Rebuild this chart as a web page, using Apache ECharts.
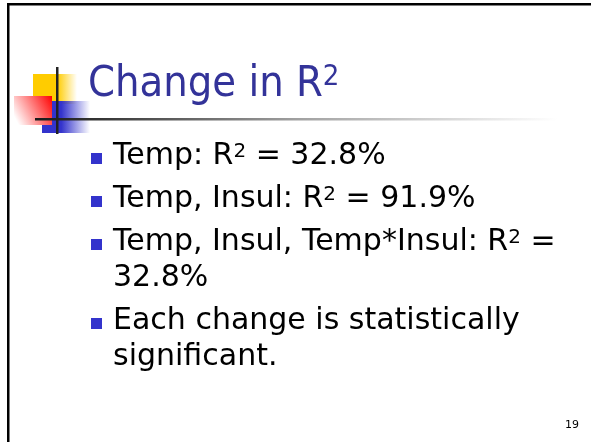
<!DOCTYPE html>
<html>
<head>
<meta charset="utf-8">
<script src="https://cdn.jsdelivr.net/npm/echarts@6/dist/echarts.min.js"></script>
<style>
  html, body { margin: 0; padding: 0; background: #fff; }
  #main { width: 591px; height: 442px; }
</style>
</head>
<body>
<div id="main"></div>
<script>
// 幻灯片内容
const titleText = 'Change in R{s|2}';
const bulletItems = [
  ['Temp: R{s|2} = 32.8%'],
  ['Temp, Insul: R{s|2} = 91.9%'],
  ['Temp, Insul, Temp*Insul: R{s|2} =', '32.8%'],
  ['Each change is statistically', 'significant.']
];
const pageNumber = '19';

const FONT = '"DejaVu Sans", sans-serif';
const TITLE_FONT = '"DejaVu Sans Condensed", "DejaVu Sans", sans-serif';

// 版式
const bodySize = 30;
const titleSize = 43;
const firstBaseline = 167;
const bulletGap = 43; // 段落之间
const lineGap = 36;   // 段落内换行

const chart = echarts.init(document.getElementById('main'));

const elements = [];

// 边框（左、上）
elements.push({ type: 'rect', shape: { x: 7, y: 3, width: 2.5, height: 442 }, style: { fill: '#000' } });
elements.push({ type: 'rect', shape: { x: 7, y: 3, width: 600, height: 2.5 }, style: { fill: '#000' } });

// 标题左侧的装饰方块
elements.push({
  type: 'rect', shape: { x: 33, y: 74, width: 44, height: 30 },
  style: { fill: new echarts.graphic.LinearGradient(0, 0, 1, 0, [
    { offset: 0, color: '#ffcc00' }, { offset: 0.55, color: '#ffcc00' }, { offset: 1, color: 'rgba(255,204,0,0)' }
  ]) }
});
elements.push({
  type: 'rect', shape: { x: 42, y: 101, width: 48, height: 32 },
  style: { fill: new echarts.graphic.LinearGradient(0, 0, 1, 0, [
    { offset: 0, color: '#3333cc' }, { offset: 0.4, color: '#3333cc' }, { offset: 1, color: 'rgba(51,51,204,0)' }
  ]) }
});
elements.push({
  type: 'rect', shape: { x: 14, y: 96, width: 38, height: 29 },
  style: { fill: new echarts.graphic.LinearGradient(1, 0, 0, 0.7, [
    { offset: 0, color: '#ff0000' }, { offset: 1, color: '#ffffff' }
  ]) }
});
// 十字线
elements.push({
  type: 'rect', shape: { x: 35, y: 118, width: 522, height: 2.5 },
  style: { fill: new echarts.graphic.LinearGradient(0, 0, 1, 0, [
    { offset: 0, color: '#1a1a1a' }, { offset: 0.12, color: '#333' }, { offset: 0.5, color: '#a0a0a0' }, { offset: 1, color: '#fff' }
  ]) }
});
elements.push({ type: 'rect', shape: { x: 56, y: 67, width: 2.5, height: 67 }, style: { fill: '#222' } });

// 标题
elements.push({
  type: 'text',
  style: {
    x: 88, y: 100 - titleSize * 0.35, text: titleText,
    font: titleSize + 'px ' + TITLE_FONT, fill: '#333399', verticalAlign: 'middle',
    rich: { s: { fontSize: 29, fontFamily: TITLE_FONT, fill: '#333399', verticalAlign: 'top', lineHeight: titleSize } }
  }
});

// 项目符号
let baseline = firstBaseline;
bulletItems.forEach((lines, i) => {
  if (i > 0) baseline += bulletGap;
  elements.push({ type: 'rect', shape: { x: 91, y: baseline - 14, width: 11, height: 11 }, style: { fill: '#3333cc' } });
  lines.forEach((line, j) => {
    if (j > 0) baseline += lineGap;
    elements.push({
      type: 'text',
      style: {
        x: 113, y: baseline - bodySize * 0.35, text: line,
        font: bodySize + 'px ' + FONT, fill: '#000', verticalAlign: 'middle',
        rich: { s: { fontSize: 20, fontFamily: FONT, fill: '#000', verticalAlign: 'top', lineHeight: bodySize } }
      }
    });
  });
});

// 页码
elements.push({
  type: 'text',
  style: { x: 579, y: 431, text: pageNumber, font: '11px ' + FONT, fill: '#000', align: 'right', verticalAlign: 'bottom' }
});

chart.setOption({
  backgroundColor: '#fff',
  graphic: { elements: elements }
});
</script>
</body>
</html>
